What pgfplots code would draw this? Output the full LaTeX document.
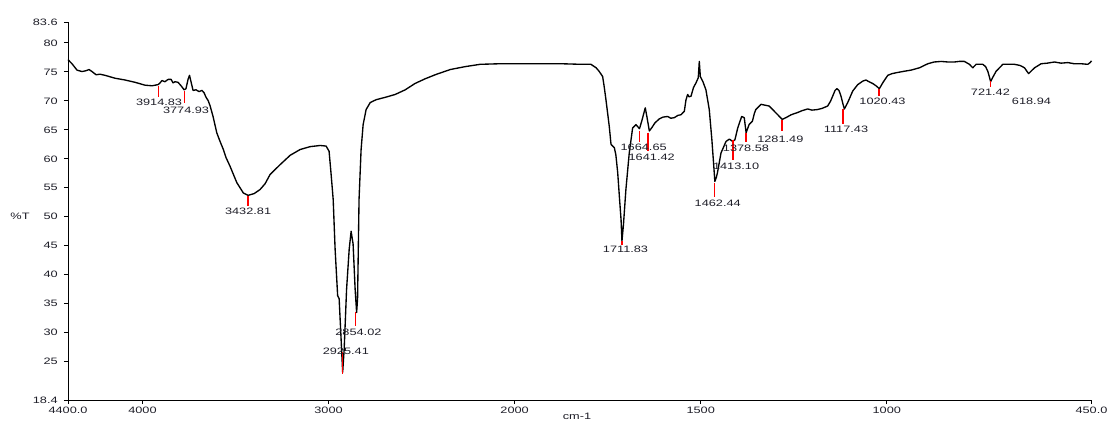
\documentclass[border=0pt]{standalone}
\usepackage{fontspec}
\setmainfont{Liberation Sans}[FakeStretch=1.37]
\usepackage{pgfplots}
\pgfplotsset{compat=1.18}
\definecolor{lblc}{HTML}{1E1E28}
\begin{document}
\fontsize{9.3pt}{11pt}\selectfont
\begin{tikzpicture}
\begin{axis}[
  at={(68pt,24pt)}, anchor=south west,
  scale only axis, width=1023.5pt, height=378pt,
  x coord trafo/.code={\pgfmathparse{#1>2000 ? -(#1+2000)/2 : -#1}},
  xmin=4400, xmax=450, ymin=18.4, ymax=83.6,
  axis x line*=bottom, axis y line*=left,
  axis line style={black, line width=0.9pt},
  tick align=outside, major tick length=4pt,
  tick style={black, line width=0.8pt},
  xtick={4400,4000,3000,2000,1500,1000,450},
  xticklabels={4400.0,4000,3000,2000,1500,1000,450.0},
  ytick={18.4,25,30,35,40,45,50,55,60,65,70,75,80,83.6},
  yticklabels={18.4,25,30,35,40,45,50,55,60,65,70,75,80,83.6},
  ticklabel style={font=\fontsize{9.3pt}{11pt}\selectfont, text=lblc},
  yticklabel style={xshift=-3pt},
  clip=false,
]
\addplot[black, line width=1.35pt, line join=round] coordinates {
(4400,77.1) (4378.5,76.4) (4351.6,75.3) (4324.7,75.05) (4303,75.2) (4287,75.4)
(4271,75.05) (4249,74.5) (4228,74.6) (4201,74.4) (4147,73.9) (4094,73.6)
(4040,73.2) (3986,72.7) (3948,72.6) (3916,72.8) (3908,73.0) (3895,73.5)
(3879,73.3) (3862,73.7) (3846,73.7) (3835.5,73.1) (3825,73.3) (3809,73.2)
(3792.5,72.6) (3776,71.9) (3766,72.1) (3755,73.7) (3747,74.4) (3739,73.3)
(3728,71.8) (3712,71.9) (3696,71.6) (3680,71.8) (3669,71.4) (3658,70.6)
(3647,70.05) (3637,69.2) (3620.5,67.3) (3600.6,64.5) (3583,63.0) (3565,61.6)
(3550.6,60.2) (3529,58.7) (3493,55.9) (3457.6,54.1) (3432.3,53.7) (3400,54.0)
(3368,54.7) (3341,55.7) (3314,57.3) (3260,59.0) (3206.5,60.6) (3153,61.6)
(3099,62.1) (3045,62.3) (3013,62.2) (2997,61.3) (2986,57.3) (2975,53.0)
(2964.6,44.4) (2951,36.4) (2943,35.9) (2935,30.6) (2924,23.2) (2916,27.1)
(2903,37.5) (2889,44.4) (2878.6,47.5) (2868,45.3) (2857,37.5) (2849,33.5)
(2844,35.8) (2836,53.0) (2825,61.6) (2814,65.9) (2798,68.5) (2776,69.7)
(2744,70.2) (2696,70.6) (2642,71.1) (2588,71.9) (2535,73.0) (2481,73.8)
(2427,74.5) (2346,75.4) (2266,75.9) (2185,76.3) (2078,76.4) (2000,76.4)
(1956,76.4) (1875,76.4) (1821,76.3) (1795,76.3) (1781,75.7) (1773,75.1)
(1763.5,74.2) (1759,72.3) (1754.6,70.2) (1745.7,65.6) (1741,62.5) (1732,61.9)
(1728,60.7) (1723,57.6) (1718,53.0) (1714,49.5) (1711.6,45.8) (1707.5,48.7)
(1701,54.7) (1692,61.0) (1683,65.3) (1674,65.9) (1664.5,65.2) (1658,66.6)
(1649,68.8) (1644.4,67.2) (1638,64.8) (1631,65.4) (1623,66.2) (1611,66.9)
(1601,67.2) (1589,67.3) (1580,67.0) (1571,67.1) (1561,67.5) (1553,67.6)
(1544,68.2) (1539.5,70.2) (1535,71.1) (1531.5,70.7) (1526,70.8) (1519.4,72.3)
(1512.6,73.1) (1506.5,74.0) (1503.8,76.8) (1501,74.2) (1494,73.3) (1486,71.9)
(1477,68.5) (1470,63.3) (1465.5,59.3) (1462,56.1) (1458,56.8) (1455,57.6)
(1445.5,61.0) (1432,63.0) (1423,63.4) (1414,63.0) (1408,63.3) (1400.6,65.3)
(1390,67.3) (1383,67.1) (1378,64.5) (1370,65.9) (1361,66.5) (1356,67.8)
(1352,68.5) (1338,69.4) (1316,69.1) (1293,67.6) (1281,66.8) (1271,67.1)
(1257,67.6) (1239,68.0) (1228,68.3) (1212.5,68.6) (1201,68.4) (1186,68.5)
(1174,68.7) (1159,69.1) (1151.5,69.9) (1145.5,70.8) (1139,71.8) (1134,72.1)
(1128.5,71.8) (1123,70.8) (1117.5,69.4) (1114,68.6) (1105,69.7) (1091.5,71.7)
(1078,72.8) (1064.6,73.4) (1056,73.6) (1048,73.3) (1038,73.0) (1029,72.6)
(1020,72.1) (1010,73.2) (997.4,74.4) (985.5,74.7) (970.5,74.9) (953.5,75.1)
(934.7,75.3) (912.4,75.7) (889.8,76.4) (872.9,76.7) (854,76.8) (835.4,76.7)
(818.4,76.7) (805.7,76.8) (791.5,76.8) (778,76.3) (769,75.7) (760,76.3)
(742,76.3) (734.5,75.9) (728.6,75.1) (723.8,74.0) (721,73.3) (715.7,74.0)
(706.3,75.1) (688.2,76.3) (674,76.3) (657,76.3) (641.7,76.1) (630,75.7)
(623,75.05) (619,74.7) (613.5,75.05) (603,75.7) (585.3,76.4) (569,76.5)
(549.5,76.7) (531.5,76.5) (513.5,76.6) (496.6,76.4) (477.8,76.4) (459.8,76.3)
(453.6,76.6) (450,76.9)
};
% peak markers
\pgfplotsset{every axis plot/.append style={}}
\addplot[red, line width=1.4pt, forget plot] coordinates {(3914.83,72.64) (3914.83,70.62)};
\addplot[red, line width=1.4pt, forget plot] coordinates {(3774.93,71.65) (3774.93,69.66)};
\addplot[red, line width=1.4pt, forget plot] coordinates {(3432.81,53.67) (3432.81,51.78)};
\addplot[red, line width=1.4pt, forget plot] coordinates {(2925.41,26.6) (2925.41,22.8)};
\addplot[red, line width=1.4pt, forget plot] coordinates {(2854.02,33.5) (2854.02,31.14)};
\addplot[red, line width=1.4pt, forget plot] coordinates {(1711.83,45.79) (1711.83,45.2)};
\addplot[red, line width=1.4pt, forget plot] coordinates {(1664.65,64.76) (1664.65,62.86)};
\addplot[red, line width=1.4pt, forget plot] coordinates {(1641.42,64.53) (1641.42,61.31)};
\addplot[red, line width=1.4pt, forget plot] coordinates {(1462.44,55.86) (1462.44,53.45)};
\addplot[red, line width=1.4pt, forget plot] coordinates {(1413.10,63.33) (1413.10,59.88)};
\addplot[red, line width=1.4pt, forget plot] coordinates {(1378.58,64.48) (1378.58,62.86)};
\addplot[red, line width=1.4pt, forget plot] coordinates {(1281.49,66.78) (1281.49,64.76)};
\addplot[red, line width=1.4pt, forget plot] coordinates {(1117.43,68.62) (1117.43,66.09)};
\addplot[red, line width=1.4pt, forget plot] coordinates {(1020.43,72.07) (1020.43,70.79)};
\addplot[red, line width=1.4pt, forget plot] coordinates {(721.42,73.38) (721.42,72.41)};
% peak labels
\begin{scope}[every node/.style={text=lblc, inner sep=0pt, font=\fontsize{9.3pt}{11pt}\selectfont}]
\node at (axis cs:3910.8,69.7) {3914.83};
\node at (axis cs:3765.6,68.33) {3774.93};
\node at (axis cs:3432.3,50.9) {3432.81};
\node at (axis cs:2907,26.83) {2925.41};
\node at (axis cs:2839.3,30.1) {2854.02};
\node at (axis cs:1702,44.36) {1711.83};
\node at (axis cs:1653.2,62.0) {1664.65};
\node at (axis cs:1631.7,60.34) {1641.42};
\node at (axis cs:1454.3,52.41) {1462.44};
\node at (axis cs:1405,58.72) {1413.10};
\node at (axis cs:1378.3,61.9) {1378.58};
\node at (axis cs:1286,63.45) {1281.49};
\node at (axis cs:1109.5,65.05) {1117.43};
\node at (axis cs:1011.6,69.93) {1020.43};
\node at (axis cs:721.6,71.48) {721.42};
\node at (axis cs:611.3,69.93) {618.94};
\end{scope}
\end{axis}
\node[text=lblc, inner sep=0pt] at (20pt,208pt) {\%T};
\node[text=lblc, inner sep=0pt] at (577pt,8pt) {cm-1};
\pgfresetboundingbox
\path[use as bounding box] (0,0) rectangle (1108pt,424pt);
\end{tikzpicture}
\end{document}
